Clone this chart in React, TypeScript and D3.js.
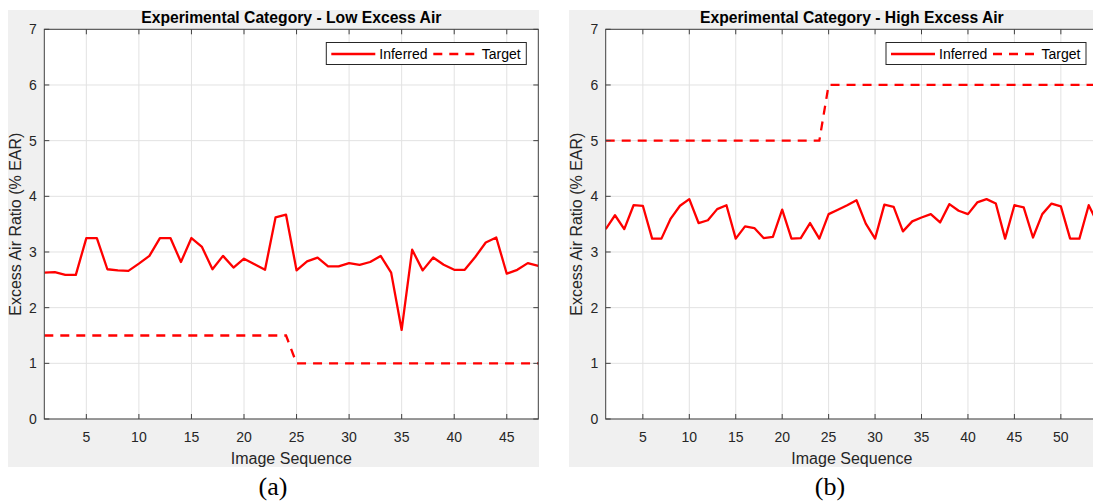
import * as d3 from "d3";

// Low excess air run (a)
const lowInferred = [
  2.63, 2.64, 2.59, 2.59, 3.25, 3.25, 2.69, 2.67, 2.66, 2.79,
  2.93, 3.25, 3.25, 2.82, 3.25, 3.09, 2.69, 2.93, 2.72, 2.88,
  2.78, 2.68, 3.62, 3.67, 2.67, 2.83, 2.9, 2.74, 2.74, 2.8,
  2.77, 2.82, 2.93, 2.63, 1.6, 3.04, 2.67, 2.9, 2.77, 2.68,
  2.68, 2.91, 3.17, 3.26, 2.61, 2.68, 2.8, 2.75,
];
const lowTarget = [
  1.5, 1.5, 1.5, 1.5, 1.5, 1.5, 1.5, 1.5, 1.5, 1.5,
  1.5, 1.5, 1.5, 1.5, 1.5, 1.5, 1.5, 1.5, 1.5, 1.5,
  1.5, 1.5, 1.5, 1.5, 1, 1, 1, 1, 1, 1,
  1, 1, 1, 1, 1, 1, 1, 1, 1, 1,
  1, 1, 1, 1, 1, 1, 1, 1,
];

// High excess air run (b)
const highInferred = [
  3.41, 3.66, 3.41, 3.84, 3.83, 3.24, 3.24, 3.6, 3.83, 3.95,
  3.52, 3.57, 3.77, 3.84, 3.24, 3.46, 3.43, 3.25, 3.27, 3.76,
  3.24, 3.25, 3.52, 3.24, 3.68, 3.76, 3.84, 3.93, 3.51, 3.24,
  3.85, 3.81, 3.37, 3.55, 3.62, 3.68, 3.53, 3.86, 3.74, 3.68,
  3.89, 3.95, 3.87, 3.24, 3.84, 3.8, 3.26, 3.68, 3.87, 3.82,
  3.24, 3.24, 3.84, 3.5,
];
const highTarget = [
  5, 5, 5, 5, 5, 5, 5, 5, 5, 5,
  5, 5, 5, 5, 5, 5, 5, 5, 5, 5,
  5, 5, 5, 5, 6, 6, 6, 6, 6, 6,
  6, 6, 6, 6, 6, 6, 6, 6, 6, 6,
  6, 6, 6, 6, 6, 6, 6, 6, 6, 6,
  6, 6, 6, 6,
];

const lowXTicks = [5, 10, 15, 20, 25, 30, 35, 40, 45];
const highXTicks = [5, 10, 15, 20, 25, 30, 35, 40, 45, 50];
const yTicks = [0, 1, 2, 3, 4, 5, 6, 7];

const legendLabels = ["Inferred", "Target"];

const FONT = "'Liberation Sans', Arial, Helvetica, sans-serif";
const RED = "#ff0000";
const AXIS = "#404040";
const GRID = "#e2e2e2";

type PanelProps = {
  id: string;
  panelX: number;
  panelW: number;
  left: number;
  right: number;
  title: string;
  inferred: number[];
  target: number[];
  xTicks: number[];
  caption: string;
  captionX: number;
};

function Panel(p: PanelProps) {
  const top = 29.3;
  const bottom = 419;
  const n = p.inferred.length;
  const x = d3.scaleLinear().domain([1, n]).range([p.left, p.right]);
  const y = d3.scaleLinear().domain([0, 7]).range([bottom, top]);

  const line = d3
    .line<number>()
    .x((_, i) => x(i + 1))
    .y((d) => y(d));

  const cx = (p.left + p.right) / 2;
  const lx = p.right - 12 - 200;
  const ly = 42.5;

  return (
    <g>
      <rect x={p.panelX} y={10} width={p.panelW} height={457} fill="#f0f0f0" />
      <rect x={p.left} y={top} width={p.right - p.left} height={bottom - top} fill="#fff" />
      <clipPath id={p.id}>
        <rect x={p.left} y={top - 2} width={p.right - p.left} height={bottom - top + 4} />
      </clipPath>

      {/* grid */}
      {p.xTicks.map((t) => (
        <line key={"gx" + t} x1={x(t)} x2={x(t)} y1={top} y2={bottom} stroke={GRID} />
      ))}
      {yTicks.map((t) => (
        <line key={"gy" + t} x1={p.left} x2={p.right} y1={y(t)} y2={y(t)} stroke={GRID} />
      ))}

      {/* series */}
      <g clipPath={`url(#${p.id})`}>
        <path d={line(p.target) || ""} fill="none" stroke={RED} strokeWidth={2.3} strokeDasharray="9,7" />
        <path d={line(p.inferred) || ""} fill="none" stroke={RED} strokeWidth={2.3} strokeLinejoin="round" />
      </g>

      {/* box + ticks */}
      <rect x={p.left} y={top} width={p.right - p.left} height={bottom - top} fill="none" stroke={AXIS} strokeWidth={1} />
      {p.xTicks.map((t) => (
        <g key={"tx" + t}>
          <line x1={x(t)} x2={x(t)} y1={bottom} y2={bottom - 5} stroke={AXIS} />
          <line x1={x(t)} x2={x(t)} y1={top} y2={top + 5} stroke={AXIS} />
          <text x={x(t)} y={441.5} textAnchor="middle" fontSize={14} fill="#262626" fontFamily={FONT}>
            {t}
          </text>
        </g>
      ))}
      {yTicks.map((t) => (
        <g key={"ty" + t}>
          <line x1={p.left} x2={p.left + 5} y1={y(t)} y2={y(t)} stroke={AXIS} />
          <line x1={p.right} x2={p.right - 5} y1={y(t)} y2={y(t)} stroke={AXIS} />
          <text x={p.left - 7.5} y={y(t)} dy="0.35em" textAnchor="end" fontSize={14} fill="#262626" fontFamily={FONT}>
            {t}
          </text>
        </g>
      ))}

      <text x={cx} y={22.5} textAnchor="middle" fontSize={15.7} fontWeight="bold" fill="#000" fontFamily={FONT}>
        {p.title}
      </text>
      <text x={cx} y={463.5} textAnchor="middle" fontSize={16} fill="#262626" fontFamily={FONT}>
        Image Sequence
      </text>
      <text
        transform={`translate(${p.left - 23.5},${(top + bottom) / 2}) rotate(-90)`}
        textAnchor="middle"
        fontSize={16}
        fill="#262626"
        fontFamily={FONT}
      >
        Excess Air Ratio (% EAR)
      </text>

      {/* legend */}
      <rect x={lx} y={ly} width={200} height={22} fill="#fff" stroke="#262626" strokeWidth={1} />
      <line x1={lx + 5} x2={lx + 49} y1={ly + 11.5} y2={ly + 11.5} stroke={RED} strokeWidth={2.3} />
      <text x={lx + 53} y={ly + 11.5} dy="0.35em" fontSize={14} fill="#000" fontFamily={FONT}>
        {legendLabels[0]}
      </text>
      <line x1={lx + 107} x2={lx + 151} y1={ly + 11.5} y2={ly + 11.5} stroke={RED} strokeWidth={2.3} strokeDasharray="9,7" />
      <text x={lx + 155.5} y={ly + 11.5} dy="0.35em" fontSize={14} fill="#000" fontFamily={FONT}>
        {legendLabels[1]}
      </text>

      <text x={p.captionX} y={495} textAnchor="middle" fontSize={26} fill="#000" fontFamily="'Liberation Serif', 'Times New Roman', serif">
        {p.caption}
      </text>
    </g>
  );
}

export default function App() {
  return (
    <div>
      <style>{`body{margin:0;background:#fff}`}</style>
      <svg width={1093} height={504} style={{ display: "block" }}>
        <rect width={1093} height={504} fill="#fff" />
        <Panel
          id="clipA"
          panelX={8}
          panelW={531}
          left={44.3}
          right={538.3}
          title="Experimental Category - Low Excess Air"
          inferred={lowInferred}
          target={lowTarget}
          xTicks={lowXTicks}
          caption="(a)"
          captionX={273}
        />
        <Panel
          id="clipB"
          panelX={569}
          panelW={540}
          left={605.7}
          right={1098}
          title="Experimental Category - High Excess Air"
          inferred={highInferred}
          target={highTarget}
          xTicks={highXTicks}
          caption="(b)"
          captionX={830}
        />
      </svg>
    </div>
  );
}
